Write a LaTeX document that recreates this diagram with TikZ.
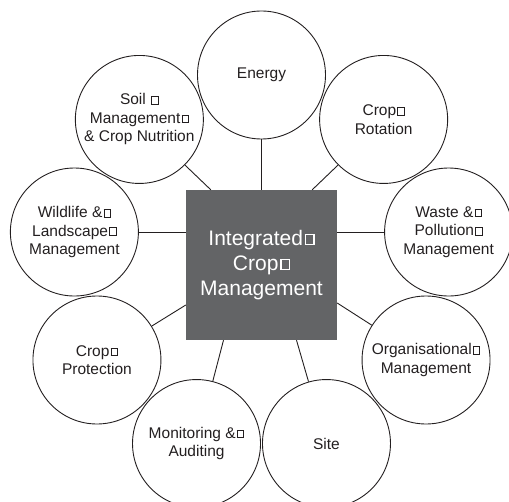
\documentclass[tikz,border=0pt]{standalone}
\usepackage{fontspec}
\setmainfont{Liberation Sans}
\definecolor{coreGray}{RGB}{99,100,102}
\definecolor{inkBlack}{RGB}{35,31,32}
% the little box that follows some words
\newcommand\gapbox{\kern.08em\vbox{\hrule height .065em\hbox{\vrule width .065em height .42em depth 0pt\kern.34em\vrule width .065em height .42em depth 0pt}\hrule height .065em}}

\begin{document}
\begin{tikzpicture}[
    every node/.style={font=\fontsize{15.5}{18.5}\selectfont},
    core/.style={
        fill=coreGray, text=white, minimum width=151pt, minimum height=150pt,
        align=center, inner sep=0pt, font=\fontsize{21}{25}\selectfont
    },
    topic/.style={
        circle, draw=inkBlack, line width=0.9pt, minimum size=128pt,
        inner sep=0pt, align=center, text=inkBlack
    },
    link/.style={draw=inkBlack, line width=0.9pt}
]
    \useasboundingbox (-261.5pt,-236pt) rectangle (247.5pt,265pt);

    \node[core] (icm) at (0,0) {Integrated\gapbox\\Crop\gapbox\\Management};

    \node[topic] (energy) at (90:190pt) {Energy};
    \node[topic] (rotation) at (50:190pt) {Crop\gapbox\\Rotation};
    \node[topic] (waste) at (10:190pt) {Waste \&\gapbox\\Pollution\gapbox\\Management};
    \node[topic] (orgm) at (-30:190pt) {Organisational\gapbox\\Management};
    \node[topic] (site) at (-70:190pt) {Site};
    \node[topic] (monitor) at (-110:190pt) {Monitoring \&\gapbox\\Auditing};
    \node[topic] (protect) at (-150:190pt) {Crop\gapbox\\Protection};
    \node[topic] (wildlife) at (170:190pt) {Wildlife \&\gapbox\\Landscape\gapbox\\Management};
    \node[topic] (soil) at (130:190pt) {Soil \gapbox\\Management\gapbox\\\& Crop Nutrition};

    \draw[link] (energy) -- (icm);
    \draw[link] (rotation.-135) -- ([xshift=-25pt]icm.north east);
    \draw[link] (waste) -- (waste -| icm.east);
    \draw[link] (orgm) -- ([yshift=-38pt]icm.east);
    \draw[link] (site) -- ([xshift=35pt]icm.south);
    \draw[link] (monitor) -- ([xshift=-38pt]icm.south);
    \draw[link] (protect) -- ([yshift=-40pt]icm.west);
    \draw[link] (wildlife) -- (wildlife -| icm.west);
    \draw[link] (soil.-45) -- ([xshift=25pt]icm.north west);
\end{tikzpicture}
\end{document}
